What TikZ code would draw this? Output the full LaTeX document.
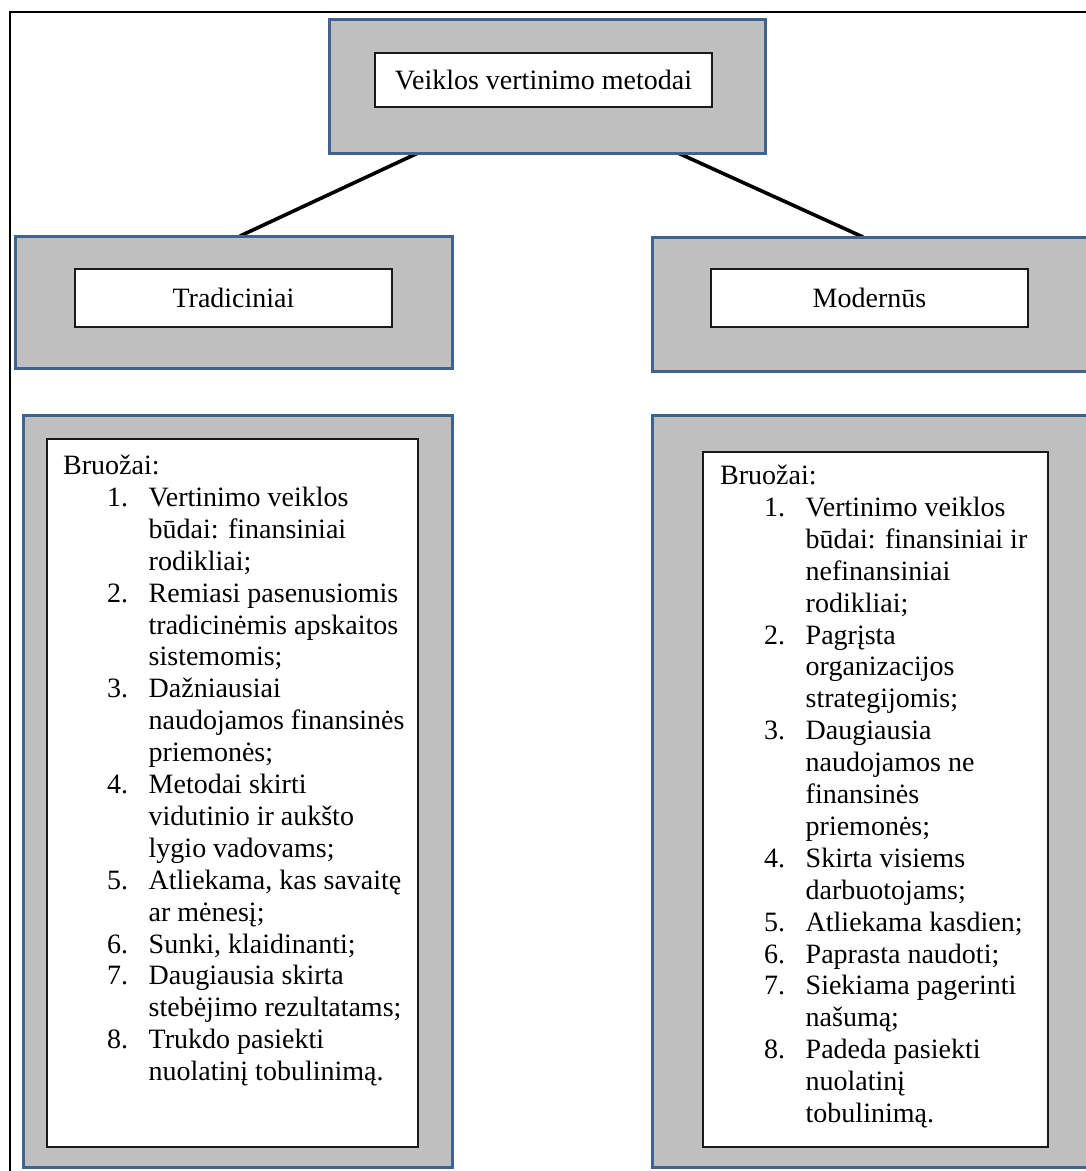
\documentclass[tikz,border=0pt]{standalone}
\usepackage{fontspec}
\setmainfont{Liberation Serif}
\usetikzlibrary{calc}
\definecolor{framegray}{HTML}{BFBFBF}
\definecolor{frameblue}{HTML}{3F6290}
\definecolor{edgeblack}{HTML}{1A1A1A}
% list helpers: numbered item line and continuation line
\newcommand\listitem[2]{\hspace*{44pt}\makebox[41.5pt][l]{#1}#2}
\newcommand\listcont[1]{\hspace*{85.5pt}#1}
\begin{document}
\begin{tikzpicture}[x=1pt,y=-1pt,
  outerbox/.style={draw=frameblue,fill=framegray,line width=3pt,rectangle,inner sep=0pt,outer sep=0pt},
  innerbox/.style={draw=edgeblack,fill=white,line width=1.8pt,rectangle,inner sep=0pt,outer sep=0pt,
    font=\fontsize{28}{32}\selectfont},
  listtext/.style={anchor=north west,inner sep=0pt,align=left,font=\fontsize{28}{31.9}\selectfont},
  link/.style={line width=3.6pt,black}]
\useasboundingbox (0,0) rectangle (1086,1171);
\clip (0,0) rectangle (1086,1171);

% page frame
\draw[line width=2pt,black] (9.5,12) rectangle (1120,1200);

% connectors
\coordinate (tl) at (418,153);
\coordinate (tr) at (678,153);
\coordinate (ml) at (240,236);
\coordinate (mr) at (863,237);
\draw[link] (tl) -- (ml);
\draw[link] (tr) -- (mr);

% top level
\node[outerbox,minimum width=436pt,minimum height=134pt] (top) at (547,86) {};
\node[innerbox,minimum width=337pt,minimum height=54pt] (topl) at (543.5,80) {Veiklos vertinimo metodai};

% second level
\node[outerbox,minimum width=437pt,minimum height=132pt] (trad) at (233.5,302) {};
\node[innerbox,minimum width=317pt,minimum height=58pt] (tradl) at (233.5,298) {Tradiciniai};
\node[outerbox,minimum width=448pt,minimum height=134pt] (mod) at (876,304) {};
\node[innerbox,minimum width=317pt,minimum height=58pt] (modl) at (869.5,298) {Modernūs};

% feature lists
\node[outerbox,minimum width=429pt,minimum height=752pt] (tradf) at (237.5,791) {};
\node[innerbox,minimum width=371pt,minimum height=708pt] (tradw) at (232.5,793) {};
\node[listtext] (tradt) at (63,452) {\strut Bruožai:\\
\listitem{1.}{Vertinimo veiklos}\\
\listcont{būdai: finansiniai}\\
\listcont{rodikliai;}\\
\listitem{2.}{Remiasi pasenusiomis}\\
\listcont{tradicinėmis apskaitos}\\
\listcont{sistemomis;}\\
\listitem{3.}{Dažniausiai}\\
\listcont{naudojamos finansinės}\\
\listcont{priemonės;}\\
\listitem{4.}{Metodai skirti}\\
\listcont{vidutinio ir aukšto}\\
\listcont{lygio vadovams;}\\
\listitem{5.}{Atliekama, kas savaitę}\\
\listcont{ar mėnesį;}\\
\listitem{6.}{Sunki, klaidinanti;}\\
\listitem{7.}{Daugiausia skirta}\\
\listcont{stebėjimo rezultatams;}\\
\listitem{8.}{Trukdo pasiekti}\\
\listcont{nuolatinį tobulinimą.}};

\node[outerbox,minimum width=448pt,minimum height=752pt] (modf) at (876,791) {};
\node[innerbox,minimum width=345pt,minimum height=695pt] (modw) at (875.5,799.5) {};
\node[listtext] (modt) at (720,462) {\strut Bruožai:\\
\listitem{1.}{Vertinimo veiklos}\\
\listcont{būdai: finansiniai ir}\\
\listcont{nefinansiniai}\\
\listcont{rodikliai;}\\
\listitem{2.}{Pagrįsta}\\
\listcont{organizacijos}\\
\listcont{strategijomis;}\\
\listitem{3.}{Daugiausia}\\
\listcont{naudojamos ne}\\
\listcont{finansinės}\\
\listcont{priemonės;}\\
\listitem{4.}{Skirta visiems}\\
\listcont{darbuotojams;}\\
\listitem{5.}{Atliekama kasdien;}\\
\listitem{6.}{Paprasta naudoti;}\\
\listitem{7.}{Siekiama pagerinti}\\
\listcont{našumą;}\\
\listitem{8.}{Padeda pasiekti}\\
\listcont{nuolatinį}\\
\listcont{tobulinimą.}};
\end{tikzpicture}
\end{document}
